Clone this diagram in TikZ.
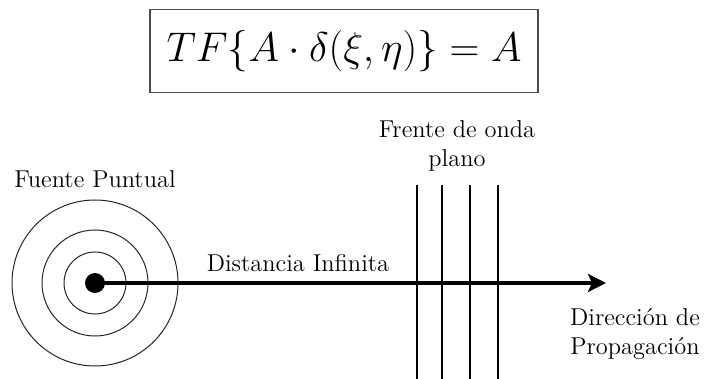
\documentclass[tikz,border=0pt]{standalone}
\usepackage{xcolor}
\usetikzlibrary{arrows.meta}

\tikzset{
  etiqueta/.style={align=center,font=\fontsize{12.2}{14.5}\selectfont},
  frente/.style={line width=1pt},
  onda/.style={line width=0.5pt,black!85}
}

\begin{document}
\begin{tikzpicture}[x=0.5pt,y=-0.5pt,>={Stealth[length=9pt,width=9pt,inset=2pt]}]
  \useasboundingbox (0,0) rectangle (706,379);
  % formula
  \node[draw=black!70,line width=0.6pt,minimum width=194pt,minimum height=41.5pt,
        font=\huge] (tf) at (344,51)
        {$TF\{A\cdot\delta(\xi,\eta)\}=A$};
  % point source
  \node[circle,fill,inner sep=0pt,minimum size=10pt] (src) at (95,283) {};
  \foreach \r in {31,53,83}
    \draw[onda] (src.center) circle[radius=\r];
  \node[etiqueta] (fp) at (95,179) {Fuente Puntual};
  % propagation
  \coordinate (tip) at (606,283);
  \draw[->,line width=2pt] (src.center) -- (tip);
  \node[etiqueta] (dist) at (298,263) {Distancia Infinita};
  \foreach \x in {417,442,470,498}
    \draw[frente] (\x,185) -- (\x,379);
  \node[etiqueta] (fo) at (457,146) {Frente de onda\\plano};
  \node[etiqueta] (dir) at (635,334) {Direcci\'on de\\Propagaci\'on};
\end{tikzpicture}
\end{document}
